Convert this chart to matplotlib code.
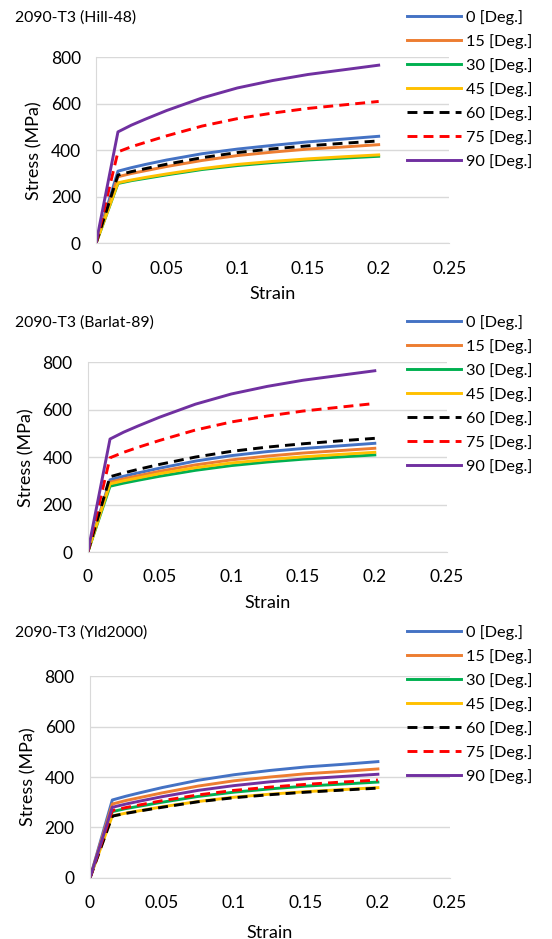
import matplotlib.pyplot as plt

plt.rcParams['font.family'] = ['Lato', 'DejaVu Sans']

strain = [0, 0.0155, 0.025, 0.035, 0.05, 0.075, 0.1, 0.125, 0.15, 0.175, 0.2]
labels = ['0 [Deg.]', '15 [Deg.]', '30 [Deg.]', '45 [Deg.]', '60 [Deg.]', '75 [Deg.]', '90 [Deg.]']
colors = ['#4472C4', '#ED7D31', '#00B050', '#FFC000', '#000000', '#FF0000', '#7030A0']
dashed = [False, False, False, False, True, True, False]

hill48 = [
    [0, 310, 325, 339, 358, 385, 405, 421, 436, 448, 460],
    [0, 286, 300, 312, 330, 356, 377, 392, 405, 414, 424],
    [0, 257, 269, 279, 294, 317, 334, 347, 358, 366, 374],
    [0, 260, 272, 283, 298, 321, 339, 352, 363, 372, 380],
    [0, 293, 308, 321, 340, 368, 390, 406, 419, 430, 440],
    [0, 393, 415, 434, 462, 504, 536, 560, 580, 595, 610],
    [0, 479, 508, 534, 571, 625, 668, 700, 726, 746, 766],
]
barlat89 = [
    [0, 305, 320, 334, 354, 384, 407, 424, 437, 448, 459],
    [0, 295, 309, 322, 341, 368, 389, 405, 418, 428, 438],
    [0, 278, 291, 303, 320, 345, 365, 380, 392, 401, 410],
    [0, 288, 301, 313, 331, 356, 376, 390, 402, 412, 421],
    [0, 318, 334, 349, 370, 401, 425, 443, 457, 469, 480],
    [0, 398, 421, 442, 471, 515, 549, 574, 595, 611, 627],
    [0, 477, 506, 532, 569, 624, 667, 699, 725, 745, 765],
]
yld2000 = [
    [0, 309, 324, 338, 358, 387, 409, 426, 440, 450, 461],
    [0, 293, 307, 319, 337, 364, 385, 400, 413, 422, 432],
    [0, 263, 275, 285, 300, 323, 340, 353, 364, 372, 380],
    [0, 246, 257, 267, 282, 303, 320, 332, 342, 350, 358],
    [0, 245, 256, 266, 280, 302, 318, 330, 340, 348, 356],
    [0, 267, 279, 290, 306, 329, 347, 360, 371, 380, 388],
    [0, 280, 293, 305, 322, 347, 366, 381, 393, 402, 411],
]

# title, data, axes rect, legend top (px), xlabel pad
panels = [
    ('2090-T3 (Hill-48)', hill48, [0.174, 0.741, 0.640, 0.198], 17, 7),
    ('2090-T3 (Barlat-89)', barlat89, [0.159, 0.412, 0.650, 0.202], 322, 7),
    ('2090-T3 (Yld2000)', yld2000, [0.163, 0.065, 0.652, 0.215], 632, 9.5),
]

W, H = 552, 939
fig = plt.figure(figsize=(W / 100, H / 100), dpi=100)

for title, data, rect, leg_top, xpad in panels:
    ax = fig.add_axes(rect)
    for i, ys in enumerate(data):
        if dashed[i]:
            ax.plot(strain, ys, color=colors[i], lw=2.1, dashes=(3.4, 2.1), label=labels[i])
        else:
            ax.plot(strain, ys, color=colors[i], lw=2.1, label=labels[i])
    ax.set_xlim(0, 0.25)
    ax.set_ylim(0, 800)
    ax.set_xticks([0, 0.05, 0.1, 0.15, 0.2, 0.25])
    ax.set_xticklabels(['0', '0.05', '0.1', '0.15', '0.2', '0.25'])
    ax.set_yticks([0, 200, 400, 600, 800])
    ax.tick_params(axis='x', length=0, labelsize=12.5, pad=12.5)
    ax.tick_params(axis='y', length=0, labelsize=12.5, pad=11)
    ax.grid(axis='y', color='#d9d9d9', lw=1)
    ax.set_axisbelow(True)
    for s in ['top', 'right']:
        ax.spines[s].set_visible(False)
    ax.spines['left'].set_color('#d9d9d9')
    ax.spines['bottom'].set_color('#d9d9d9')
    ax.set_xlabel('Strain', fontsize=13, labelpad=xpad)
    ax.set_ylabel('Stress (MPa)', fontsize=13, labelpad=6)
    fig.text(15 / W, 1 - (leg_top + 1) / H, title, fontsize=11.3, va='center', ha='left')
    ax.legend(loc='upper left', bbox_to_anchor=(407 / W, 1 - (leg_top - 7) / H),
              bbox_transform=fig.transFigure, frameon=False, fontsize=11.7,
              handlelength=3.3, handletextpad=0.3, labelspacing=0.56,
              borderaxespad=0, borderpad=0)

plt.savefig('out.png', dpi=100)
